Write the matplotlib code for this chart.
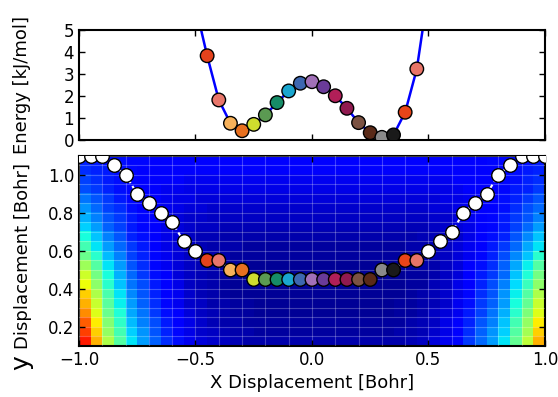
import matplotlib
matplotlib.use("Agg")
import matplotlib.pyplot as plt
import numpy as np
from matplotlib.ticker import MultipleLocator

# path images: x displacement, y displacement, energy (kJ/mol), colour
img_x = [-0.45, -0.40, -0.35, -0.30, -0.25, -0.20, -0.15, -0.10, -0.05, 0.00,
         0.05, 0.10, 0.15, 0.20, 0.25, 0.30, 0.35, 0.40, 0.45]
img_y = [0.55, 0.55, 0.50, 0.50, 0.45, 0.45, 0.45, 0.45, 0.45, 0.45,
         0.45, 0.45, 0.45, 0.45, 0.45, 0.50, 0.50, 0.55, 0.55]
img_e = [3.83, 1.82, 0.76, 0.42, 0.71, 1.14, 1.70, 2.23, 2.58, 2.65,
         2.42, 2.01, 1.44, 0.79, 0.33, 0.12, 0.23, 1.26, 3.23]
img_col = ['#e5421c', '#e8766a', '#f7b15a', '#e8701f', '#cfdd2e', '#5b9a52',
           '#168c68', '#1aa6cf', '#3d67b0', '#a170b8', '#6a3b99', '#b11f58',
           '#901a50', '#7b5242', '#5a2a18', '#8a8a8a', '#1a1a1a', '#e84419',
           '#e87468']

# energy curve extended beyond the plotted range
curve_x = [-0.50] + img_x + [0.50]
curve_e = [6.1] + img_e + [6.8]

# white (unrelaxed) parts of the path
left_x = [-1.00, -0.95, -0.90, -0.85, -0.80, -0.75, -0.70, -0.65, -0.60, -0.55, -0.50]
left_y = [1.10, 1.10, 1.10, 1.05, 1.00, 0.90, 0.85, 0.80, 0.75, 0.65, 0.60]
right_x = [0.50, 0.55, 0.60, 0.65, 0.70, 0.75, 0.80, 0.85, 0.90, 0.95, 1.00]
right_y = [0.60, 0.65, 0.70, 0.80, 0.85, 0.90, 1.00, 1.05, 1.10, 1.10, 1.10]

# potential surface on a 40 x 20 grid (rows from y=0.1 upward), in % of colour scale
pes = [
    [88, 72, 56, 45, 35, 28, 22, 17, 14, 10, 8, 7, 6, 5, 4, 4, 4, 4, 4, 4, 4, 4, 4, 4, 4, 4, 4, 4, 5, 6, 8, 10, 13, 18, 23, 28, 35, 47, 58, 72],
    [84, 69, 53, 43, 33, 27, 21, 16, 13, 9, 7, 6, 5, 4, 4, 3, 3, 3, 3, 3, 3, 3, 3, 3, 3, 3, 3, 4, 4, 5, 7, 9, 12, 17, 22, 27, 33, 45, 55, 69],
    [81, 66, 51, 41, 31, 25, 20, 15, 12, 9, 7, 5, 4, 4, 3, 3, 3, 3, 3, 3, 3, 3, 3, 3, 3, 3, 3, 3, 4, 5, 6, 9, 11, 16, 21, 25, 32, 43, 53, 66],
    [76, 62, 48, 39, 29, 24, 18, 14, 11, 8, 6, 5, 4, 3, 3, 2, 2, 2, 2, 2, 2, 2, 2, 2, 2, 2, 2, 3, 3, 4, 6, 8, 10, 15, 19, 24, 30, 40, 50, 62],
    [72, 59, 46, 36, 28, 22, 17, 13, 10, 7, 6, 4, 4, 3, 3, 2, 2, 2, 2, 2, 2, 2, 2, 2, 2, 2, 2, 3, 3, 4, 5, 7, 10, 14, 18, 22, 28, 38, 47, 59],
    [69, 56, 44, 35, 26, 21, 16, 12, 10, 7, 5, 4, 3, 2, 2, 2, 2, 2, 2, 2, 2, 2, 2, 2, 2, 2, 2, 2, 3, 4, 5, 7, 9, 13, 17, 21, 27, 36, 45, 56],
    [64, 52, 40, 32, 24, 20, 15, 12, 9, 6, 5, 4, 3, 2, 2, 2, 2, 2, 2, 2, 2, 2, 2, 2, 2, 2, 2, 2, 3, 3, 5, 6, 9, 12, 16, 20, 25, 34, 42, 52],
    [60, 49, 38, 30, 23, 18, 14, 11, 8, 6, 5, 4, 3, 2, 2, 2, 2, 2, 2, 2, 2, 2, 2, 2, 2, 2, 2, 2, 3, 3, 4, 6, 8, 12, 15, 18, 23, 32, 39, 49],
    [54, 45, 35, 28, 21, 17, 13, 10, 8, 6, 5, 4, 3, 3, 2, 2, 2, 2, 2, 2, 2, 2, 2, 2, 2, 2, 2, 3, 3, 4, 4, 6, 8, 11, 14, 17, 22, 29, 36, 45],
    [48, 40, 31, 25, 19, 16, 13, 10, 8, 6, 5, 4, 4, 3, 3, 3, 3, 3, 3, 3, 3, 3, 3, 3, 3, 3, 3, 3, 3, 4, 5, 6, 8, 10, 13, 16, 20, 26, 32, 40],
    [43, 35, 28, 23, 18, 15, 12, 9, 8, 6, 5, 4, 4, 4, 3, 3, 3, 3, 3, 3, 3, 3, 3, 3, 3, 3, 3, 3, 4, 4, 5, 6, 8, 10, 12, 15, 18, 23, 29, 35],
    [38, 32, 25, 21, 16, 14, 11, 9, 8, 6, 5, 5, 4, 4, 4, 4, 4, 4, 4, 4, 4, 4, 4, 4, 4, 4, 4, 4, 4, 5, 5, 6, 7, 9, 12, 14, 16, 21, 26, 32],
    [33, 28, 22, 19, 15, 13, 11, 9, 8, 7, 6, 6, 5, 5, 5, 5, 5, 5, 5, 5, 5, 5, 5, 5, 5, 5, 5, 5, 5, 5, 6, 7, 8, 9, 11, 13, 15, 19, 23, 28],
    [30, 25, 21, 18, 15, 13, 11, 9, 8, 7, 7, 6, 6, 6, 6, 6, 6, 6, 6, 6, 6, 6, 6, 6, 6, 6, 6, 6, 6, 6, 7, 7, 8, 10, 11, 13, 15, 18, 21, 25],
    [27, 23, 19, 17, 14, 12, 11, 10, 9, 8, 8, 7, 7, 7, 7, 7, 7, 7, 7, 7, 7, 7, 7, 7, 7, 7, 7, 7, 7, 7, 8, 8, 9, 10, 11, 12, 14, 17, 20, 23],
    [24, 21, 18, 15, 13, 12, 11, 10, 9, 9, 8, 8, 8, 8, 8, 8, 8, 8, 8, 8, 8, 8, 8, 8, 8, 8, 8, 8, 8, 8, 8, 9, 9, 10, 11, 12, 14, 16, 18, 21],
    [20, 18, 16, 14, 13, 12, 11, 10, 10, 9, 9, 9, 9, 9, 9, 9, 9, 9, 9, 9, 9, 9, 9, 9, 9, 9, 9, 9, 9, 9, 9, 9, 10, 11, 11, 12, 13, 15, 16, 18],
    [19, 17, 15, 14, 13, 12, 11, 11, 11, 10, 10, 10, 10, 10, 10, 10, 10, 10, 10, 10, 10, 10, 10, 10, 10, 10, 10, 10, 10, 10, 10, 10, 11, 11, 12, 12, 13, 14, 16, 17],
    [17, 16, 15, 14, 13, 12, 12, 12, 11, 11, 11, 11, 11, 11, 11, 11, 11, 11, 11, 11, 11, 11, 11, 11, 11, 11, 11, 11, 11, 11, 11, 11, 11, 12, 12, 12, 13, 14, 15, 16],
    [16, 15, 14, 14, 13, 13, 12, 12, 12, 12, 12, 12, 12, 12, 12, 12, 12, 12, 12, 12, 12, 12, 12, 12, 12, 12, 12, 12, 12, 12, 12, 12, 12, 12, 12, 13, 13, 14, 14, 15],
]

plt.rcParams['font.family'] = 'DejaVu Sans'
plt.rcParams['font.size'] = 12
plt.rcParams['axes.linewidth'] = 1.5
for ax_name in ('xtick', 'ytick'):
    plt.rcParams[ax_name + '.direction'] = 'in'
    plt.rcParams[ax_name + '.major.size'] = 4
    plt.rcParams[ax_name + '.major.width'] = 1.0

fig = plt.figure(figsize=(5.58, 3.97), dpi=100)
ax1 = fig.add_axes([0.1416, 0.6474, 0.835, 0.277])
ax2 = fig.add_axes([0.1416, 0.1285, 0.835, 0.4786])

# --- energy profile along the path
ax1.plot(curve_x, curve_e, color='blue', lw=1.8, zorder=2)
ax1.scatter(img_x, img_e, s=95, c=img_col, edgecolors='black', linewidths=1.0, zorder=3)
ax1.set_xlim(-1, 1)
ax1.set_ylim(0, 5)
ax1.set_xticks([-1.0, -0.5, 0.0, 0.5, 1.0])
ax1.set_xticklabels([])
ax1.set_yticks([0, 1, 2, 3, 4, 5])
ax1.tick_params(top=True, right=True)
ax1.set_ylabel('Energy [kJ/mol]', fontsize=13)
ax1.yaxis.set_label_coords(-0.102, 0.5)

# --- path on the potential surface
ax2.imshow(np.array(pes), cmap='jet', vmin=0, vmax=100, origin='lower',
           extent=[-1, 1, 0.1, 1.1], aspect='auto', interpolation='nearest', zorder=0)
ax2.plot(left_x + img_x + right_x, left_y + img_y + right_y, color='white',
         ls='--', lw=1.5, zorder=2)
ax2.scatter(left_x + right_x, left_y + right_y, s=95, c='white',
            edgecolors='black', linewidths=1.0, zorder=3)
ax2.scatter(img_x, img_y, s=95, c=img_col, edgecolors='black', linewidths=1.0, zorder=3)
ax2.set_xlim(-1, 1)
ax2.set_ylim(0.1, 1.1)
ax2.set_xticks([-1.0, -0.5, 0.0, 0.5, 1.0])
ax2.set_yticks([0.2, 0.4, 0.6, 0.8, 1.0])
ax2.xaxis.set_minor_locator(MultipleLocator(0.1))
ax2.yaxis.set_minor_locator(MultipleLocator(0.05))
ax2.tick_params(which='minor', length=0)
ax2.tick_params(top=True, right=True)
ax2.grid(which='both', color='white', alpha=0.25, lw=0.8)
ax2.set_axisbelow(False)
ax2.set_xlabel('X Displacement [Bohr]', fontsize=13)
# y label: a bigger "y" followed by the rest
ax2.text(-0.1094, 0.471, 'Displacement [Bohr]', transform=ax2.transAxes, fontsize=13,
         rotation=90, rotation_mode='anchor', ha='center', va='baseline')
ax2.text(-0.1094, -0.087, 'y', transform=ax2.transAxes, fontsize=18,
         rotation=90, rotation_mode='anchor', ha='center', va='baseline')

fig.savefig('out.png', dpi=100)
